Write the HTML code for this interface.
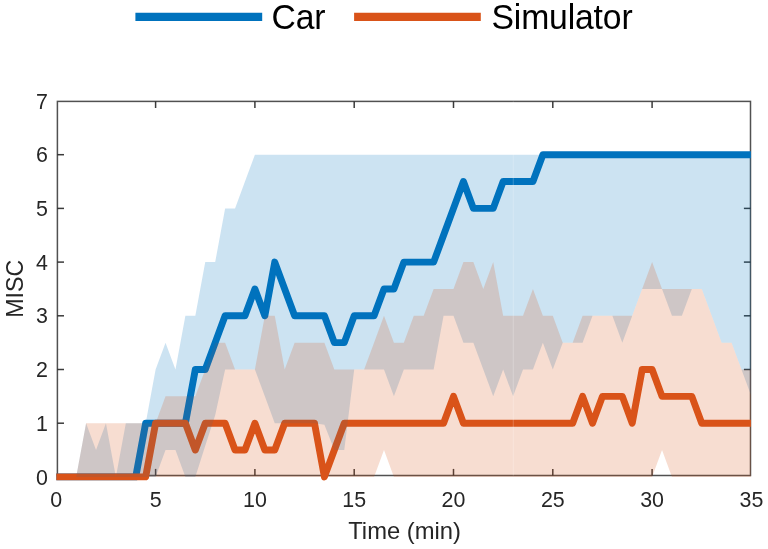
<!DOCTYPE html>
<html><head><meta charset="utf-8"><style>
html,body{margin:0;padding:0;background:#fff;width:768px;height:549px;overflow:hidden;font-family:"Liberation Sans",sans-serif;}
svg{display:block;will-change:transform}
</style></head><body>
<svg width="768" height="549" viewBox="0 0 768 549">
<rect width="768" height="549" fill="#fff"/>
<defs><clipPath id="c"><rect x="55.9" y="100.4" width="695.0" height="382.1"/></clipPath></defs>
<g stroke="#262626" stroke-width="1.5" opacity="0.9"><line x1="57.4" y1="423.20" x2="64.0" y2="423.20"/><line x1="750.5" y1="423.20" x2="743.9" y2="423.20"/><line x1="57.4" y1="369.50" x2="64.0" y2="369.50"/><line x1="750.5" y1="369.50" x2="743.9" y2="369.50"/><line x1="57.4" y1="315.80" x2="64.0" y2="315.80"/><line x1="750.5" y1="315.80" x2="743.9" y2="315.80"/><line x1="57.4" y1="262.10" x2="64.0" y2="262.10"/><line x1="750.5" y1="262.10" x2="743.9" y2="262.10"/><line x1="57.4" y1="208.40" x2="64.0" y2="208.40"/><line x1="750.5" y1="208.40" x2="743.9" y2="208.40"/><line x1="57.4" y1="154.70" x2="64.0" y2="154.70"/><line x1="750.5" y1="154.70" x2="743.9" y2="154.70"/><line x1="155.60" y1="475.5" x2="155.60" y2="468.9"/><line x1="155.60" y1="101.4" x2="155.60" y2="108.0"/><line x1="254.90" y1="475.5" x2="254.90" y2="468.9"/><line x1="254.90" y1="101.4" x2="254.90" y2="108.0"/><line x1="354.20" y1="475.5" x2="354.20" y2="468.9"/><line x1="354.20" y1="101.4" x2="354.20" y2="108.0"/><line x1="453.50" y1="475.5" x2="453.50" y2="468.9"/><line x1="453.50" y1="101.4" x2="453.50" y2="108.0"/><line x1="552.80" y1="475.5" x2="552.80" y2="468.9"/><line x1="552.80" y1="101.4" x2="552.80" y2="108.0"/><line x1="652.10" y1="475.5" x2="652.10" y2="468.9"/><line x1="652.10" y1="101.4" x2="652.10" y2="108.0"/></g>
<rect x="57.4" y="101.4" width="693.1" height="374.1" fill="none" stroke="#262626" stroke-width="1.5" opacity="0.8"/>
<g clip-path="url(#c)">
<mask id="mb" maskUnits="userSpaceOnUse" x="0" y="0" width="768" height="549"><polyline points="56.30,476.90 66.23,476.90 76.16,476.90 86.09,476.90 96.02,476.90 105.95,476.90 115.88,476.90 125.81,476.90 135.74,476.90 145.67,423.20 155.60,423.20 165.53,423.20 175.46,423.20 185.39,423.20 195.32,369.50 205.25,369.50 215.18,342.65 225.11,315.80 235.04,315.80 244.97,315.80 254.90,288.95 264.83,315.80 274.76,262.10 284.69,288.95 294.62,315.80 304.55,315.80 314.48,315.80 324.41,315.80 334.34,342.65 344.27,342.65 354.20,315.80 364.13,315.80 374.06,315.80 383.99,288.95 393.92,288.95 403.85,262.10 413.78,262.10 423.71,262.10 433.64,262.10 443.57,235.25 453.50,208.40 463.43,181.55 473.36,208.40 483.29,208.40 493.22,208.40 503.15,181.55 513.08,181.55 523.01,181.55 532.94,181.55 542.87,154.70 552.80,154.70 562.73,154.70 572.66,154.70 582.59,154.70 592.52,154.70 602.45,154.70 612.38,154.70 622.31,154.70 632.24,154.70 642.17,154.70 652.10,154.70 662.03,154.70 671.96,154.70 681.89,154.70 691.82,154.70 701.75,154.70 711.68,154.70 721.61,154.70 731.54,154.70 741.47,154.70 751.40,154.70" fill="none" stroke="#fff" stroke-width="6.9" stroke-linejoin="round"/></mask>
<mask id="mo" maskUnits="userSpaceOnUse" x="0" y="0" width="768" height="549"><polyline points="56.30,476.90 66.23,476.90 76.16,476.90 86.09,476.90 96.02,476.90 105.95,476.90 115.88,476.90 125.81,476.90 135.74,476.90 145.67,476.90 155.60,423.20 165.53,423.20 175.46,423.20 185.39,423.20 195.32,450.05 205.25,423.20 215.18,423.20 225.11,423.20 235.04,450.05 244.97,450.05 254.90,423.20 264.83,450.05 274.76,450.05 284.69,423.20 294.62,423.20 304.55,423.20 314.48,423.20 324.41,476.90 334.34,450.05 344.27,423.20 354.20,423.20 364.13,423.20 374.06,423.20 383.99,423.20 393.92,423.20 403.85,423.20 413.78,423.20 423.71,423.20 433.64,423.20 443.57,423.20 453.50,396.35 463.43,423.20 473.36,423.20 483.29,423.20 493.22,423.20 503.15,423.20 513.08,423.20 523.01,423.20 532.94,423.20 542.87,423.20 552.80,423.20 562.73,423.20 572.66,423.20 582.59,396.35 592.52,423.20 602.45,396.35 612.38,396.35 622.31,396.35 632.24,423.20 642.17,369.50 652.10,369.50 662.03,396.35 671.96,396.35 681.89,396.35 691.82,396.35 701.75,423.20 711.68,423.20 721.61,423.20 731.54,423.20 741.47,423.20 751.40,423.20" fill="none" stroke="#fff" stroke-width="6.9" stroke-linejoin="round"/></mask>
<polygon points="56.30,476.90 66.23,476.90 76.16,476.90 86.09,476.90 96.02,476.90 105.95,476.90 115.88,476.90 125.81,476.90 135.74,476.90 145.67,476.90 155.60,476.90 165.53,450.05 175.46,450.05 185.39,476.90 195.32,476.90 205.25,445.75 215.18,415.14 225.11,369.50 235.04,369.50 244.97,369.50 254.90,369.50 264.83,396.35 274.76,423.20 284.69,423.20 294.62,423.20 304.55,423.20 314.48,423.20 324.41,424.81 334.34,450.05 344.27,450.05 354.20,369.50 364.13,369.50 374.06,369.50 383.99,369.50 393.92,396.35 403.85,369.50 413.78,369.50 423.71,369.50 433.64,369.50 443.57,315.80 453.50,315.80 463.43,342.65 473.36,342.65 483.29,369.50 493.22,396.35 503.15,369.50 513.08,396.35 523.01,369.50 532.94,369.50 542.87,342.65 552.80,369.50 562.73,342.65 572.66,342.65 582.59,342.65 592.52,315.80 602.45,315.80 612.38,315.80 622.31,342.65 632.24,315.80 642.17,288.95 652.10,288.95 662.03,288.95 671.96,315.80 681.89,315.80 691.82,288.95 701.75,288.95 711.68,315.80 721.61,342.65 731.54,342.65 741.47,369.50 751.40,396.35 751.40,154.70 741.47,154.70 731.54,154.70 721.61,154.70 711.68,154.70 701.75,154.70 691.82,154.70 681.89,154.70 671.96,154.70 662.03,154.70 652.10,154.70 642.17,154.70 632.24,154.70 622.31,154.70 612.38,154.70 602.45,154.70 592.52,154.70 582.59,154.70 572.66,154.70 562.73,154.70 552.80,154.70 542.87,154.70 532.94,154.70 523.01,154.70 513.08,154.70 503.15,154.70 493.22,154.70 483.29,154.70 473.36,154.70 463.43,154.70 453.50,154.70 443.57,154.70 433.64,154.70 423.71,154.70 413.78,154.70 403.85,154.70 393.92,154.70 383.99,154.70 374.06,154.70 364.13,154.70 354.20,154.70 344.27,154.70 334.34,154.70 324.41,154.70 314.48,154.70 304.55,154.70 294.62,154.70 284.69,154.70 274.76,154.70 264.83,154.70 254.90,154.70 244.97,181.55 235.04,208.40 225.11,208.40 215.18,262.10 205.25,262.10 195.32,315.80 185.39,315.80 175.46,369.50 165.53,342.65 155.60,369.50 145.67,423.20 135.74,423.20 125.81,423.20 115.88,476.90 105.95,423.20 96.02,450.05 86.09,423.20 76.16,476.90 66.23,476.90 56.30,476.90" fill="#0072bd" fill-opacity="0.2"/>
<polygon points="56.30,476.90 66.23,476.90 76.16,476.90 86.09,476.90 96.02,476.90 105.95,476.90 115.88,476.90 125.81,476.90 135.74,476.90 145.67,476.90 155.60,476.90 165.53,476.90 175.46,476.90 185.39,476.90 195.32,476.90 205.25,476.90 215.18,476.90 225.11,476.90 235.04,476.90 244.97,476.90 254.90,476.90 264.83,476.90 274.76,476.90 284.69,476.90 294.62,476.90 304.55,476.90 314.48,476.90 324.41,476.90 334.34,476.90 344.27,476.90 354.20,476.90 364.13,476.90 374.06,476.90 383.99,450.05 393.92,476.90 403.85,476.90 413.78,476.90 423.71,476.90 433.64,476.90 443.57,476.90 453.50,476.90 463.43,476.90 473.36,476.90 483.29,476.90 493.22,476.90 503.15,476.90 513.08,476.90 523.01,476.90 532.94,476.90 542.87,476.90 552.80,476.90 562.73,476.90 572.66,476.90 582.59,476.90 592.52,476.90 602.45,476.90 612.38,476.90 622.31,476.90 632.24,476.90 642.17,476.90 652.10,476.90 662.03,450.05 671.96,476.90 681.89,476.90 691.82,476.90 701.75,476.90 711.68,476.90 721.61,476.90 731.54,476.90 741.47,476.90 751.40,476.90 751.40,369.50 741.47,369.50 731.54,342.65 721.61,342.65 711.68,315.80 701.75,288.95 691.82,288.95 681.89,288.95 671.96,288.95 662.03,288.95 652.10,262.10 642.17,288.95 632.24,315.80 622.31,315.80 612.38,315.80 602.45,315.80 592.52,315.80 582.59,315.80 572.66,342.65 562.73,342.65 552.80,315.80 542.87,315.80 532.94,288.95 523.01,315.80 513.08,315.80 503.15,315.80 493.22,262.10 483.29,288.95 473.36,262.10 463.43,262.10 453.50,288.95 443.57,288.95 433.64,288.95 423.71,315.80 413.78,315.80 403.85,342.65 393.92,342.65 383.99,315.80 374.06,342.65 364.13,369.50 354.20,369.50 344.27,369.50 334.34,369.50 324.41,342.65 314.48,342.65 304.55,342.65 294.62,342.65 284.69,369.50 274.76,315.80 264.83,315.80 254.90,369.50 244.97,369.50 235.04,369.50 225.11,342.65 215.18,342.65 205.25,369.50 195.32,396.35 185.39,396.35 175.46,396.35 165.53,396.35 155.60,423.20 145.67,423.20 135.74,423.20 125.81,423.20 115.88,423.20 105.95,423.20 96.02,423.20 86.09,423.20 76.16,476.90 66.23,476.90 56.30,476.90" fill="#d95319" fill-opacity="0.2"/>
<polyline points="56.30,476.90 66.23,476.90 76.16,476.90 86.09,476.90 96.02,476.90 105.95,476.90 115.88,476.90 125.81,476.90 135.74,476.90 145.67,423.20 155.60,423.20 165.53,423.20 175.46,423.20 185.39,423.20 195.32,369.50 205.25,369.50 215.18,342.65 225.11,315.80 235.04,315.80 244.97,315.80 254.90,288.95 264.83,315.80 274.76,262.10 284.69,288.95 294.62,315.80 304.55,315.80 314.48,315.80 324.41,315.80 334.34,342.65 344.27,342.65 354.20,315.80 364.13,315.80 374.06,315.80 383.99,288.95 393.92,288.95 403.85,262.10 413.78,262.10 423.71,262.10 433.64,262.10 443.57,235.25 453.50,208.40 463.43,181.55 473.36,208.40 483.29,208.40 493.22,208.40 503.15,181.55 513.08,181.55 523.01,181.55 532.94,181.55 542.87,154.70 552.80,154.70 562.73,154.70 572.66,154.70 582.59,154.70 592.52,154.70 602.45,154.70 612.38,154.70 622.31,154.70 632.24,154.70 642.17,154.70 652.10,154.70 662.03,154.70 671.96,154.70 681.89,154.70 691.82,154.70 701.75,154.70 711.68,154.70 721.61,154.70 731.54,154.70 741.47,154.70 751.40,154.70" fill="none" stroke="#0072bd" stroke-width="6.9" stroke-linejoin="round" stroke-linecap="butt"/>
<polygon points="56.30,476.90 66.23,476.90 76.16,476.90 86.09,476.90 96.02,476.90 105.95,476.90 115.88,476.90 125.81,476.90 135.74,476.90 145.67,476.90 155.60,476.90 165.53,476.90 175.46,476.90 185.39,476.90 195.32,476.90 205.25,476.90 215.18,476.90 225.11,476.90 235.04,476.90 244.97,476.90 254.90,476.90 264.83,476.90 274.76,476.90 284.69,476.90 294.62,476.90 304.55,476.90 314.48,476.90 324.41,476.90 334.34,476.90 344.27,476.90 354.20,476.90 364.13,476.90 374.06,476.90 383.99,450.05 393.92,476.90 403.85,476.90 413.78,476.90 423.71,476.90 433.64,476.90 443.57,476.90 453.50,476.90 463.43,476.90 473.36,476.90 483.29,476.90 493.22,476.90 503.15,476.90 513.08,476.90 523.01,476.90 532.94,476.90 542.87,476.90 552.80,476.90 562.73,476.90 572.66,476.90 582.59,476.90 592.52,476.90 602.45,476.90 612.38,476.90 622.31,476.90 632.24,476.90 642.17,476.90 652.10,476.90 662.03,450.05 671.96,476.90 681.89,476.90 691.82,476.90 701.75,476.90 711.68,476.90 721.61,476.90 731.54,476.90 741.47,476.90 751.40,476.90 751.40,369.50 741.47,369.50 731.54,342.65 721.61,342.65 711.68,315.80 701.75,288.95 691.82,288.95 681.89,288.95 671.96,288.95 662.03,288.95 652.10,262.10 642.17,288.95 632.24,315.80 622.31,315.80 612.38,315.80 602.45,315.80 592.52,315.80 582.59,315.80 572.66,342.65 562.73,342.65 552.80,315.80 542.87,315.80 532.94,288.95 523.01,315.80 513.08,315.80 503.15,315.80 493.22,262.10 483.29,288.95 473.36,262.10 463.43,262.10 453.50,288.95 443.57,288.95 433.64,288.95 423.71,315.80 413.78,315.80 403.85,342.65 393.92,342.65 383.99,315.80 374.06,342.65 364.13,369.50 354.20,369.50 344.27,369.50 334.34,369.50 324.41,342.65 314.48,342.65 304.55,342.65 294.62,342.65 284.69,369.50 274.76,315.80 264.83,315.80 254.90,369.50 244.97,369.50 235.04,369.50 225.11,342.65 215.18,342.65 205.25,369.50 195.32,396.35 185.39,396.35 175.46,396.35 165.53,396.35 155.60,423.20 145.67,423.20 135.74,423.20 125.81,423.20 115.88,423.20 105.95,423.20 96.02,423.20 86.09,423.20 76.16,476.90 66.23,476.90 56.30,476.90" fill="#d95319" fill-opacity="0.1" mask="url(#mb)"/>
<polyline points="56.30,476.90 66.23,476.90 76.16,476.90 86.09,476.90 96.02,476.90 105.95,476.90 115.88,476.90 125.81,476.90 135.74,476.90 145.67,476.90 155.60,423.20 165.53,423.20 175.46,423.20 185.39,423.20 195.32,450.05 205.25,423.20 215.18,423.20 225.11,423.20 235.04,450.05 244.97,450.05 254.90,423.20 264.83,450.05 274.76,450.05 284.69,423.20 294.62,423.20 304.55,423.20 314.48,423.20 324.41,476.90 334.34,450.05 344.27,423.20 354.20,423.20 364.13,423.20 374.06,423.20 383.99,423.20 393.92,423.20 403.85,423.20 413.78,423.20 423.71,423.20 433.64,423.20 443.57,423.20 453.50,396.35 463.43,423.20 473.36,423.20 483.29,423.20 493.22,423.20 503.15,423.20 513.08,423.20 523.01,423.20 532.94,423.20 542.87,423.20 552.80,423.20 562.73,423.20 572.66,423.20 582.59,396.35 592.52,423.20 602.45,396.35 612.38,396.35 622.31,396.35 632.24,423.20 642.17,369.50 652.10,369.50 662.03,396.35 671.96,396.35 681.89,396.35 691.82,396.35 701.75,423.20 711.68,423.20 721.61,423.20 731.54,423.20 741.47,423.20 751.40,423.20" fill="none" stroke="#d95319" stroke-width="6.9" stroke-linejoin="round" stroke-linecap="butt"/>
<polygon points="56.30,476.90 66.23,476.90 76.16,476.90 86.09,476.90 96.02,476.90 105.95,476.90 115.88,476.90 125.81,476.90 135.74,476.90 145.67,476.90 155.60,476.90 165.53,450.05 175.46,450.05 185.39,476.90 195.32,476.90 205.25,445.75 215.18,415.14 225.11,369.50 235.04,369.50 244.97,369.50 254.90,369.50 264.83,396.35 274.76,423.20 284.69,423.20 294.62,423.20 304.55,423.20 314.48,423.20 324.41,424.81 334.34,450.05 344.27,450.05 354.20,369.50 364.13,369.50 374.06,369.50 383.99,369.50 393.92,396.35 403.85,369.50 413.78,369.50 423.71,369.50 433.64,369.50 443.57,315.80 453.50,315.80 463.43,342.65 473.36,342.65 483.29,369.50 493.22,396.35 503.15,369.50 513.08,396.35 523.01,369.50 532.94,369.50 542.87,342.65 552.80,369.50 562.73,342.65 572.66,342.65 582.59,342.65 592.52,315.80 602.45,315.80 612.38,315.80 622.31,342.65 632.24,315.80 642.17,288.95 652.10,288.95 662.03,288.95 671.96,315.80 681.89,315.80 691.82,288.95 701.75,288.95 711.68,315.80 721.61,342.65 731.54,342.65 741.47,369.50 751.40,396.35 751.40,154.70 741.47,154.70 731.54,154.70 721.61,154.70 711.68,154.70 701.75,154.70 691.82,154.70 681.89,154.70 671.96,154.70 662.03,154.70 652.10,154.70 642.17,154.70 632.24,154.70 622.31,154.70 612.38,154.70 602.45,154.70 592.52,154.70 582.59,154.70 572.66,154.70 562.73,154.70 552.80,154.70 542.87,154.70 532.94,154.70 523.01,154.70 513.08,154.70 503.15,154.70 493.22,154.70 483.29,154.70 473.36,154.70 463.43,154.70 453.50,154.70 443.57,154.70 433.64,154.70 423.71,154.70 413.78,154.70 403.85,154.70 393.92,154.70 383.99,154.70 374.06,154.70 364.13,154.70 354.20,154.70 344.27,154.70 334.34,154.70 324.41,154.70 314.48,154.70 304.55,154.70 294.62,154.70 284.69,154.70 274.76,154.70 264.83,154.70 254.90,154.70 244.97,181.55 235.04,208.40 225.11,208.40 215.18,262.10 205.25,262.10 195.32,315.80 185.39,315.80 175.46,369.50 165.53,342.65 155.60,369.50 145.67,423.20 135.74,423.20 125.81,423.20 115.88,476.90 105.95,423.20 96.02,450.05 86.09,423.20 76.16,476.90 66.23,476.90 56.30,476.90" fill="#0072bd" fill-opacity="0.1" mask="url(#mo)"/>
<line x1="513.28" y1="101.4" x2="513.28" y2="475.5" stroke="#fff" stroke-width="1" opacity="0.22"/>
</g>
<g font-family="Liberation Sans, sans-serif" font-size="21.4" fill="#262626"><text x="47.8" y="484.50" text-anchor="end">0</text><text x="47.8" y="430.80" text-anchor="end">1</text><text x="47.8" y="377.10" text-anchor="end">2</text><text x="47.8" y="323.40" text-anchor="end">3</text><text x="47.8" y="269.70" text-anchor="end">4</text><text x="47.8" y="216.00" text-anchor="end">5</text><text x="47.8" y="162.30" text-anchor="end">6</text><text x="47.8" y="108.60" text-anchor="end">7</text><text x="56.30" y="507.4" text-anchor="middle">0</text><text x="155.60" y="507.4" text-anchor="middle">5</text><text x="254.90" y="507.4" text-anchor="middle">10</text><text x="354.20" y="507.4" text-anchor="middle">15</text><text x="453.50" y="507.4" text-anchor="middle">20</text><text x="552.80" y="507.4" text-anchor="middle">25</text><text x="652.10" y="507.4" text-anchor="middle">30</text><text x="751.40" y="507.4" text-anchor="middle">35</text></g>
<text x="404.6" y="539.0" text-anchor="middle" font-family="Liberation Sans, sans-serif" font-size="23.8" fill="#262626">Time (min)</text>
<text transform="translate(23,288.8) rotate(-90)" text-anchor="middle" font-family="Liberation Sans, sans-serif" font-size="23.2" fill="#262626">MISC</text>
<line x1="135.4" y1="16.9" x2="262.2" y2="16.9" stroke="#0072bd" stroke-width="8.3"/>
<line x1="354.1" y1="16.8" x2="480.8" y2="16.8" stroke="#d95319" stroke-width="8.3"/>
<text transform="translate(271.5,29.4) scale(1,1.04)" font-family="Liberation Sans, sans-serif" font-size="33.7" letter-spacing="-0.15" fill="#000">Car</text>
<text transform="translate(491.5,29.4) scale(1,1.04)" font-family="Liberation Sans, sans-serif" font-size="33.7" letter-spacing="-0.15" fill="#000">Simulator</text>
</svg>
</body></html>
